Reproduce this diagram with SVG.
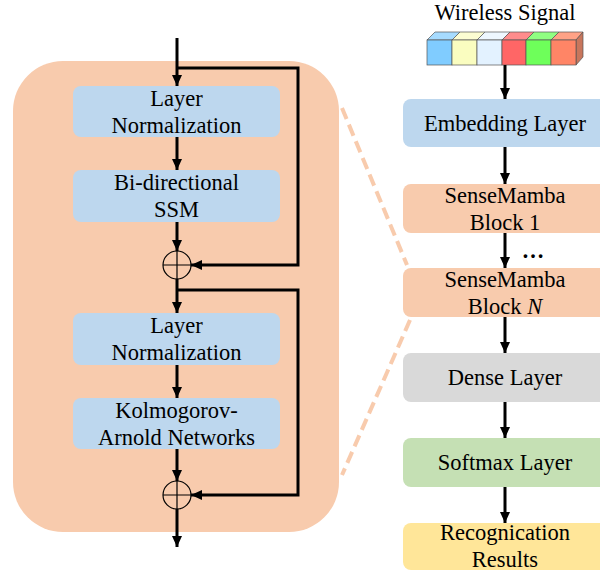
<svg xmlns="http://www.w3.org/2000/svg" width="600" height="573" viewBox="0 0 600 573">
<defs>
<marker id="ah" markerUnits="userSpaceOnUse" markerWidth="11" markerHeight="10" refX="11" refY="5" orient="auto">
<path d="M0,0 L11,5 L0,10 z" fill="#000"/>
</marker>
<style>
text{font-family:'Liberation Serif','Times New Roman',Times,serif;font-size:22.5px;fill:#000;text-anchor:middle}
.conn{stroke:#000;stroke-width:3;fill:none}
.blue{fill:#BDD7EE}
.orange{fill:#F8CBAD}
.sum{fill:none;stroke:#000;stroke-width:1.2}
.dash{stroke:#F8CBAD;stroke-width:4;stroke-dasharray:12,6;fill:none}
.cube{stroke:#555;stroke-width:0.7}
</style>
</defs>
<rect width="600" height="573" fill="#fff"/>

<g id="block-container">
<rect x="13" y="61" width="326" height="471" rx="50" ry="50" class="orange"/>
</g>

<g id="zoom-lines">
<line x1="342" y1="108" x2="407" y2="265" class="dash"/>
<line x1="410" y1="320" x2="342" y2="475" class="dash"/>
</g>

<g id="ln1"><rect x="73" y="86" width="207" height="51" rx="8" class="blue"/>
<text x="176.5" y="106">Layer</text><text x="176.5" y="133">Normalization</text></g>
<g id="ssm"><rect x="73" y="170" width="207" height="52" rx="8" class="blue"/>
<text x="176.5" y="190">Bi-directional</text><text x="176.5" y="217">SSM</text></g>
<g id="ln2"><rect x="73" y="313" width="207" height="52" rx="8" class="blue"/>
<text x="176.5" y="333">Layer</text><text x="176.5" y="360">Normalization</text></g>
<g id="kan"><rect x="73" y="398" width="207" height="51" rx="8" class="blue"/>
<text x="176.5" y="418">Kolmogorov-</text><text x="176.5" y="445">Arnold Networks</text></g>
<g id="sum1"><circle cx="177" cy="265" r="14" class="sum"/><path d="M163,265 H191 M177,251 V279" class="sum"/></g>
<g id="sum2"><circle cx="177" cy="495" r="14" class="sum"/><path d="M163,495 H191 M177,481 V509" class="sum"/></g>

<g id="signal">
<text x="505" y="20">Wireless Signal</text>
<polygon points="427,40 435,32 460,32 452,40" fill="#A6DBFF" class="cube"/>
<polygon points="452,40 460,32 485,32 477,40" fill="#FCFDD2" class="cube"/>
<polygon points="477,40 485,32 510,32 502,40" fill="#EEF7FF" class="cube"/>
<polygon points="502,40 510,32 534,32 526,40" fill="#FF8C8C" class="cube"/>
<polygon points="526,40 534,32 559,32 551,40" fill="#90FF82" class="cube"/>
<polygon points="551,40 559,32 583,32 576,40" fill="#FFA286" class="cube"/>
<polygon points="576,40 583,32 583,57 576,65" fill="#C8765C" class="cube"/>
<rect x="427" y="40" width="25" height="25" fill="#80CCFF" class="cube"/>
<rect x="452" y="40" width="25" height="25" fill="#FAFDC0" class="cube"/>
<rect x="477" y="40" width="25" height="25" fill="#E3F2FF" class="cube"/>
<rect x="502" y="40" width="24" height="25" fill="#FF6666" class="cube"/>
<rect x="526" y="40" width="25" height="25" fill="#6EFF5A" class="cube"/>
<rect x="551" y="40" width="25" height="25" fill="#FF8566" class="cube"/>
</g>

<g id="embedding"><rect x="403" y="99" width="205" height="48" rx="8" class="blue"/>
<text x="505" y="131">Embedding Layer</text></g>
<g id="block1"><rect x="403" y="184" width="205" height="49" rx="8" class="orange"/>
<text x="505" y="203">SenseMamba</text><text x="505" y="230">Block 1</text></g>
<g id="blockN"><rect x="403" y="268" width="205" height="49" rx="8" class="orange"/>
<text x="505" y="287">SenseMamba</text><text x="505" y="314">Block <tspan font-style="italic">N</tspan></text></g>
<g id="dense"><rect x="403" y="353" width="205" height="49" rx="8" fill="#D9D9D9"/>
<text x="505" y="385">Dense Layer</text></g>
<g id="softmax"><rect x="403" y="438" width="205" height="49" rx="8" fill="#C5E0B4"/>
<text x="505" y="470">Softmax Layer</text></g>
<g id="results"><rect x="403" y="523" width="205" height="47" rx="8" fill="#FFE699"/>
<text x="505" y="540">Recognication</text><text x="505" y="567">Results</text></g>
<text x="533" y="258" font-weight="bold">…</text>

<g id="connectors">
<line x1="177" y1="38" x2="177" y2="86" class="conn" marker-end="url(#ah)"/>
<polyline points="177,68 298,68 298,265 191,265" class="conn" marker-end="url(#ah)"/>
<line x1="177" y1="137" x2="177" y2="170" class="conn" marker-end="url(#ah)"/>
<line x1="177" y1="222" x2="177" y2="251" class="conn" marker-end="url(#ah)"/>
<line x1="177" y1="279" x2="177" y2="313" class="conn" marker-end="url(#ah)"/>
<polyline points="177,290 298,290 298,495 191,495" class="conn" marker-end="url(#ah)"/>
<line x1="177" y1="365" x2="177" y2="398" class="conn" marker-end="url(#ah)"/>
<line x1="177" y1="449" x2="177" y2="481" class="conn" marker-end="url(#ah)"/>
<line x1="177" y1="509" x2="177" y2="547" class="conn" marker-end="url(#ah)"/>
<line x1="505" y1="65" x2="505" y2="99" class="conn" marker-end="url(#ah)"/>
<line x1="505" y1="147" x2="505" y2="184" class="conn" marker-end="url(#ah)"/>
<line x1="505" y1="233" x2="505" y2="268" class="conn" marker-end="url(#ah)"/>
<line x1="505" y1="317" x2="505" y2="353" class="conn" marker-end="url(#ah)"/>
<line x1="505" y1="402" x2="505" y2="438" class="conn" marker-end="url(#ah)"/>
<line x1="505" y1="487" x2="505" y2="523" class="conn" marker-end="url(#ah)"/>
</g>
</svg>
